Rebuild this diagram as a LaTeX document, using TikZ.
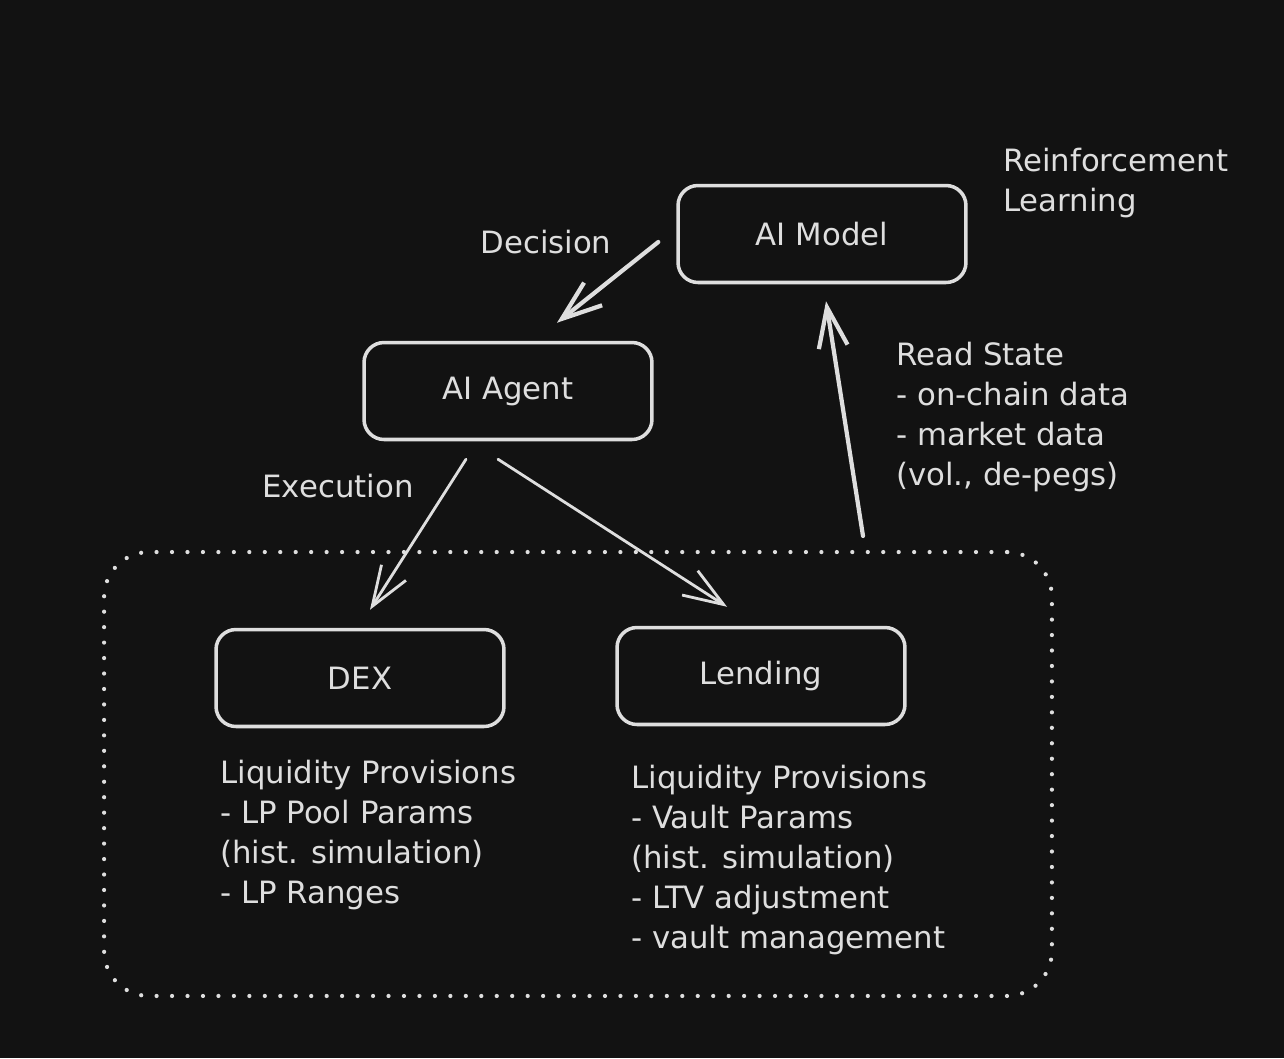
\documentclass[tikz,border=0pt]{standalone}
\usepackage{fontspec}
\setmainfont{DejaVu Sans}
\usetikzlibrary{arrows.meta}
\definecolor{bg}{RGB}{18,18,18}
\definecolor{ink}{RGB}{222,222,222}
\tikzset{
  box/.style={draw=ink, line width=2pt, rounded corners=0.4cm, minimum width=5.76cm,
      minimum height=1.94cm, text=ink, font=\fontsize{17.5}{22.7}\selectfont},
  note/.style={text=ink, align=left, anchor=north west, inner sep=0pt,
      font=\fontsize{17.5}{22.7}\selectfont},
  tag/.style={text=ink, inner sep=0pt, font=\fontsize{17.5}{22.7}\selectfont},
  arr/.style={draw=ink, line width=1.6pt, line cap=round,
      -{Straight Barb[length=0.8cm, width=0.58cm]}},
  thickarr/.style={arr, line width=2.4pt},
  zone/.style={draw=ink, line width=2.4pt, line cap=round, dash pattern=on 0pt off 8.8pt,
      rounded corners=0.9cm, minimum width=18.96cm, minimum height=8.88cm},
}
\begin{document}
\begin{tikzpicture}[x=0.02cm, y=-0.02cm]
  \fill[bg] (0,0) rectangle (1284,1058);
  \node[box] (model) at (822,234) {AI Model};
  \node[box] (agent) at (508,391) {AI Agent};
  \node[zone] (area) at (578,774) {};
  \node[box] (dex) at (360,678) {DEX};
  \node[box] (lend) at (761,676) {Lending};
  \node[note] (rl) at (1003,148) {Reinforcement\\Learning};
  \node[note] (read) at (896,342) {Read State\\- on-chain data\\- market data\\(vol., de-pegs)};
  \node[note] (dexnote) at (220,760) {Liquidity Provisions\\- LP Pool Params\\(hist. simulation)\\- LP Ranges};
  \node[note] (lendnote) at (631,765) {Liquidity Provisions\\- Vault Params\\(hist. simulation)\\- LTV adjustment\\- vault management};
  \node[tag] (dec) at (546,242) {Decision};
  \node[tag] (exe) at (338,486) {Execution};
  \draw[thickarr] ([shift={(-18,8)}]model.west) -- ([shift={(49,-18)}]agent.north);
  \draw[arr] ([shift={(-42,18)}]agent.south) -- ([shift={(10,-18)}]dex.north);
  \draw[arr] ([shift={(-10,18)}]agent.south) -- ([shift={(-34,-19)}]lend.north);
  \draw[thickarr] ([shift={(285,-14)}]area.north) -- ([shift={(4,17)}]model.south);
\end{tikzpicture}
\end{document}
